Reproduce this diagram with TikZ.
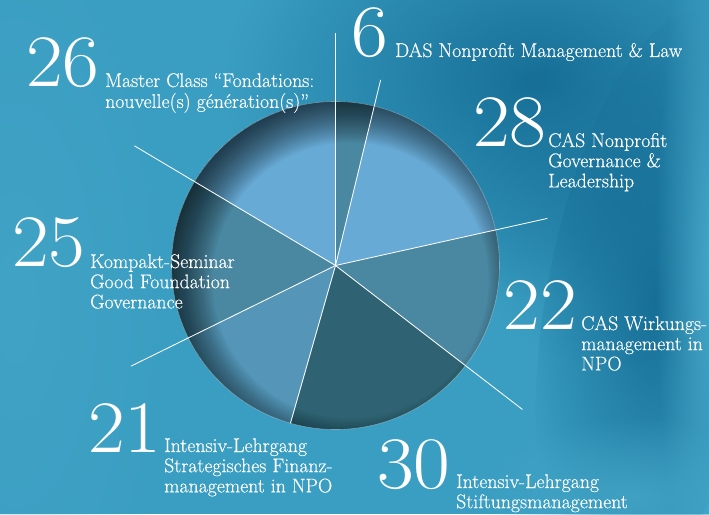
\documentclass[tikz,border=0pt]{standalone}
\usepackage{fontspec}
\newfontfamily\lblfont{Latin Modern Roman}[FakeBold=0.35]
\usetikzlibrary{fadings}
\tikzfading[name=blobfade, inner color=transparent!0, outer color=transparent!100]
\definecolor{bgbase}{HTML}{3A9EC2}
\definecolor{bgdark}{HTML}{176F97}
\definecolor{bglight}{HTML}{48A9CA}
\definecolor{slLight}{HTML}{67AAD5}
\definecolor{slMid}{HTML}{4A87A1}
\definecolor{slDark}{HTML}{2F6373}
\definecolor{slSoft}{HTML}{5596B8}
\newcommand{\bignum}[1]{\scalebox{1.08}[1]{#1}}
\tikzset{
  numtxt/.style={text=white, font=\fontsize{74}{74}\selectfont, anchor=base west, inner sep=0pt},
  lbltxt/.style={text=white, font=\lblfont\fontsize{19.8}{20.2}\selectfont, anchor=base west, inner sep=0pt},
  spoke/.style={draw=white, line width=0.85pt}
}
\begin{document}
\begin{tikzpicture}[x=1pt,y=1pt]
\path[use as bounding box] (-335.5,-248.5) rectangle (373.5,265.5);
% background
\fill[bgbase] (-335.5,-248.5) rectangle (373.5,265.5);
\begin{scope}
\clip (-335.5,-248.5) rectangle (373.5,265.5);
\fill[bgdark, path fading=blobfade] (200,185) ellipse (310 and 220);
\fill[bgdark, path fading=blobfade, rotate around={-10:(320,-40)}] (320,-40) ellipse (110 and 300);
\fill[bgdark, opacity=0.6, path fading=blobfade] (280,60) ellipse (160 and 160);
\fill[bglight, path fading=blobfade] (380,0) ellipse (60 and 400);
\fill[bglight, opacity=0.7, path fading=blobfade] (300,-230) ellipse (160 and 80);
\fill[bglight, opacity=0.5, path fading=blobfade] (-320,-40) ellipse (160 and 400);
\end{scope}
% pie
\coordinate (c) at (0,0);
\def\R{164}
\fill[slMid]   (c) -- (90:\R)      arc[start angle=90,     end angle=76.33,   radius=\R] -- cycle;
\fill[slLight] (c) -- (76.33:\R)   arc[start angle=76.33,  end angle=12.53,   radius=\R] -- cycle;
\fill[slMid]   (c) -- (12.53:\R)   arc[start angle=12.53,  end angle=-37.60,  radius=\R] -- cycle;
\fill[slDark]  (c) -- (-37.60:\R)  arc[start angle=-37.60, end angle=-105.95, radius=\R] -- cycle;
\fill[slSoft]  (c) -- (-105.95:\R) arc[start angle=-105.95,end angle=-153.80, radius=\R] -- cycle;
\fill[slMid]   (c) -- (-153.80:\R) arc[start angle=-153.80,end angle=-210.76, radius=\R] -- cycle;
\fill[slLight] (c) -- (149.24:\R)  arc[start angle=149.24, end angle=90,      radius=\R] -- cycle;
% inner shadow
\begin{scope}
\clip (c) circle (\R);
\foreach \k in {0,...,31} {
  \pgfmathsetmacro{\rr}{138+1.5*\k}
  \fill[black, opacity=0.026, even odd rule] (15,-15) circle (\rr) (c) circle (200);
}
\end{scope}
\draw[white, opacity=0.35, line width=0.6pt] (c) circle (\R);
% spokes
\coordinate (e1) at (90:232);
\coordinate (e2) at (76.33:191);
\coordinate (e3) at (12.53:217);
\coordinate (e4) at (-37.60:236);
\coordinate (e5) at (-105.95:\R);
\coordinate (e6) at (-153.80:228);
\coordinate (e7) at (149.24:234);
\foreach \e in {e1,e2,e3,e4,e5,e6,e7} { \draw[spoke] (c) -- (\e); }
% numbers
\node[numtxt] (n26) at (-309.5,178.5) {\bignum{26}};
\node[numtxt] (n6)  at (15.5,208.5) {\bignum{6}};
\node[numtxt] (n28) at (137.5,118.5) {\bignum{28}};
\node[numtxt] (n25) at (-323.5,-1.5) {\bignum{25}};
\node[numtxt] (n22) at (168,-63.5) {\bignum{22}};
\node[numtxt] (n21) at (-247.5,-186.5) {\bignum{21}};
\node[numtxt] (n30) at (41.5,-222.5) {\bignum{30}};
% labels
\node[lbltxt] (l26) at (-230.5,178.5) {\begin{tabular}[t]{@{}l@{}}Master Class “Fondations:\\nouvelle(s) génération(s)”\end{tabular}};
\node[lbltxt] (l6)  at (59.5,208.5) {DAS Nonprofit Management \& Law};
\node[lbltxt] (l28) at (212.5,118.5) {\begin{tabular}[t]{@{}l@{}}CAS Nonprofit\\Governance \&\\Leadership\end{tabular}};
\node[lbltxt] (l25) at (-245.5,-2.5) {\begin{tabular}[t]{@{}l@{}}Kompakt-Seminar\\Good Foundation\\Governance\end{tabular}};
\node[lbltxt] (l22) at (245.5,-64.5) {\begin{tabular}[t]{@{}l@{}}CAS Wirkungs-\\management in\\NPO\end{tabular}};
\node[lbltxt] (l21) at (-171.5,-186.5) {\begin{tabular}[t]{@{}l@{}}Intensiv-Lehrgang\\Strategisches Finanz-\\management in NPO\end{tabular}};
\node[lbltxt] (l30) at (120.5,-222.5) {\begin{tabular}[t]{@{}l@{}}Intensiv-Lehrgang\\Stiftungsmanagement\end{tabular}};
\end{tikzpicture}
\end{document}
